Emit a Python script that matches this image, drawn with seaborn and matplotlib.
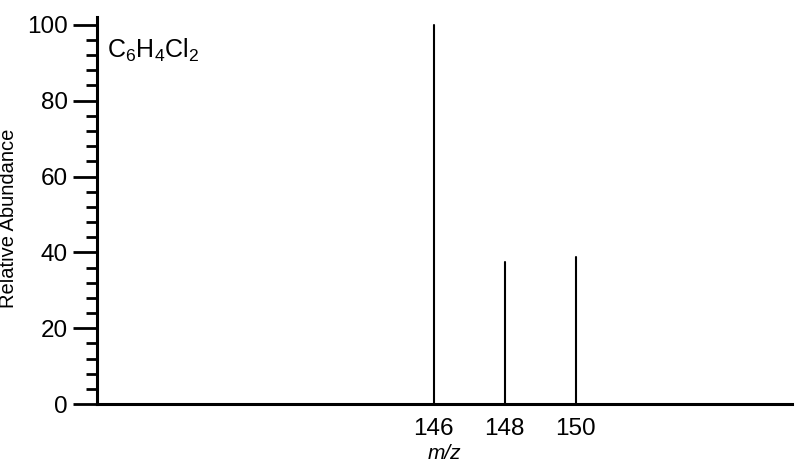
import matplotlib
matplotlib.use("Agg")
import matplotlib.pyplot as plt
from matplotlib.ticker import MultipleLocator
import seaborn as sns
import pandas as pd

# Data
mz_values = [146, 148, 150]
abundances = [100.0, 37.4, 38.9]
x_ticks = [146, 148, 150]
y_ticks = [0, 20, 40, 60, 80, 100]
formula = r"$\mathrm{C_6H_4Cl_2}$"

sns.set_style("ticks")
plt.rcParams['font.family'] = ['Liberation Sans', 'DejaVu Sans']
plt.rcParams['mathtext.fontset'] = 'custom'
plt.rcParams['mathtext.rm'] = 'Liberation Sans'
plt.rcParams['mathtext.it'] = 'Liberation Sans:italic'

rows = []
for i, (m, a) in enumerate(zip(mz_values, abundances)):
    rows.append({"peak": i, "mz": m, "ab": 0.0})
    rows.append({"peak": i, "mz": m, "ab": a})
df = pd.DataFrame(rows)

fig = plt.figure(figsize=(8, 4.65), dpi=100)
ax = fig.add_axes([0.121, 0.131, 0.869, 0.832])

sns.lineplot(data=df, x="mz", y="ab", units="peak", estimator=None, sort=False,
             color="black", linewidth=1.5, ax=ax, legend=False)

ax.set_xlim(136.5, 156.1)
ax.set_ylim(0, 102)
ax.set_xticks(x_ticks)
ax.set_xticklabels([str(t) for t in x_ticks])
ax.set_yticks(y_ticks)
ax.yaxis.set_minor_locator(MultipleLocator(4))

sns.despine(ax=ax)
for s in ["left", "bottom"]:
    ax.spines[s].set_linewidth(2.2)
    ax.spines[s].set_color("black")

ax.tick_params(axis="y", which="major", length=17, width=2.0, labelsize=17.5, pad=4, colors="black")
ax.tick_params(axis="y", which="minor", length=8, width=2.0, colors="black")
ax.tick_params(axis="x", which="major", length=0, labelsize=17.5, pad=10, colors="black")

ax.set_xlabel("m/z", fontsize=15, fontstyle="italic", labelpad=3, color="black")
ax.set_ylabel("Relative Abundance", fontsize=14.5, color="black")
ax.yaxis.set_label_coords(-0.113, 0.479)

ax.text(0.014, 0.915, formula, transform=ax.transAxes, fontsize=18,
        ha="left", va="center", color="black")

fig.savefig("out.png", dpi=100)
